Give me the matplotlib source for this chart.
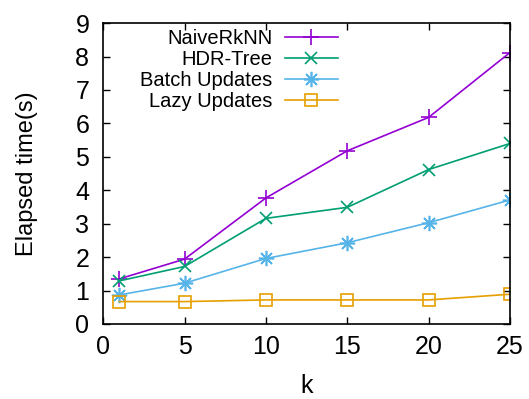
import matplotlib
matplotlib.use('Agg')
import matplotlib.pyplot as plt

plt.rcParams['font.family'] = ['Liberation Sans', 'DejaVu Sans']

k = [1, 5, 10, 15, 20, 25]
naive = [1.35, 1.94, 3.77, 5.18, 6.18, 8.12]
hdr = [1.29, 1.72, 3.16, 3.49, 4.62, 5.40]
batch = [0.87, 1.22, 1.96, 2.43, 3.03, 3.71]
lazy = [0.67, 0.67, 0.72, 0.72, 0.72, 0.89]

fig = plt.figure(figsize=(5.29, 3.99), dpi=100)
ax = fig.add_axes([0.195, 0.188, 0.769, 0.754])

ax.plot(k, naive, color='#9400d3', lw=1.2, marker='+', ms=11, mew=1.2,
        label='NaiveRkNN')
ax.plot(k, hdr, color='#009e73', lw=1.2, marker='x', ms=9, mew=1.2,
        label='HDR-Tree')
ax.plot(k, batch, color='#56b4e9', lw=1.2, marker=(8, 2, 0), ms=11, mew=1.2,
        label='Batch Updates')
ax.plot(k, lazy, color='#e69f00', lw=1.2, marker='s', ms=9, mew=1.2,
        mfc='none', label='Lazy Updates')

ax.set_xlim(0, 25)
ax.set_ylim(0, 9)
ax.set_xticks(range(0, 26, 5))
ax.set_yticks(range(0, 10))
ax.tick_params(direction='in', top=True, right=True, length=5,
               labelsize=18, width=1)
ax.tick_params(axis='x', pad=8)
ax.tick_params(axis='y', pad=10)
for s in ax.spines.values():
    s.set_linewidth(1.2)

ax.set_xlabel('k', fontsize=18)
ax.set_ylabel('Elapsed time(s)', fontsize=17)
ax.xaxis.set_label_coords(0.5, -0.165)
ax.yaxis.set_label_coords(-0.16, 0.5)

leg = ax.legend(loc='upper right', bbox_to_anchor=(0.597, 1.008),
                frameon=False, markerfirst=False, fontsize=14.5,
                handlelength=2.65, labelspacing=0.1, handletextpad=0.6,
                borderaxespad=0.0)
for t in leg.get_texts():
    t.set_ha('right')
leg._legend_box.align = 'right'

fig.savefig('out.png', dpi=100)
